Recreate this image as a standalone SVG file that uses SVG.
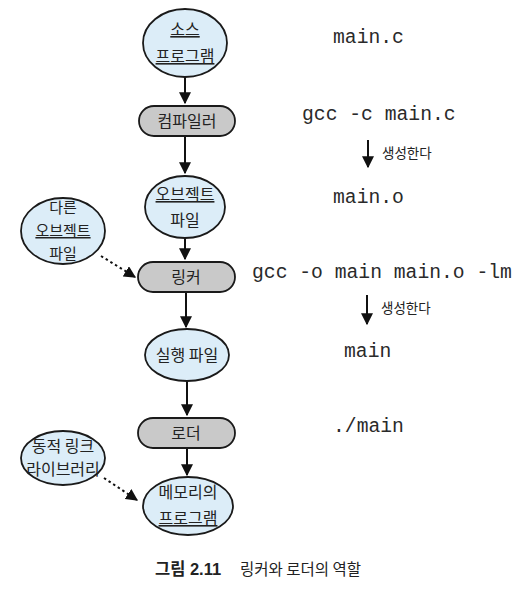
<svg xmlns="http://www.w3.org/2000/svg" width="525" height="591" viewBox="0 0 525 591">
<style>
.el{fill:#dcedf8;stroke:#1a1a1a;stroke-width:1.8}
.pl{fill:#c9c9c9;stroke:#1a1a1a;stroke-width:1.8}
.t{font-family:"Noto Sans CJK KR","Noto Sans",sans-serif;font-size:16px;fill:#222;text-anchor:middle}
.u{text-decoration:underline}
.m{font-family:"Liberation Mono","DejaVu Sans Mono",monospace;font-size:19.7px;fill:#2a2a2a}
.s{font-family:"Noto Sans CJK KR","Noto Sans",sans-serif;font-size:13.5px;fill:#222}
.a{stroke:#111;stroke-width:2;fill:none;marker-end:url(#ah)}
.d{stroke:#111;stroke-width:2;fill:none;stroke-dasharray:2.5 3;marker-end:url(#ah)}
</style>
<defs>
<marker id="ah" viewBox="0 0 10 10" refX="9" refY="5" markerWidth="6" markerHeight="6" orient="auto" markerUnits="strokeWidth">
<path d="M0,0 L10,5 L0,10 z" fill="#111"/>
</marker>
</defs>
<rect width="525" height="591" fill="#fff"/>
<g id="connectors">
<line class="a" x1="185" y1="77" x2="185" y2="103"/>
<line class="a" x1="185" y1="137" x2="185" y2="173"/>
<line class="a" x1="185" y1="238" x2="185" y2="259"/>
<line class="a" x1="186" y1="293" x2="186" y2="327"/>
<line class="a" x1="187" y1="381" x2="187" y2="415"/>
<line class="a" x1="187" y1="449" x2="187" y2="475"/>
<path class="d" d="M101,256 L135,277"/>
<path class="d" d="M104,478 L137,500"/>
<line class="a" x1="368" y1="140" x2="368" y2="167"/>
<line class="a" x1="367" y1="295" x2="367" y2="324"/>
</g>
<g id="n-source">
<ellipse class="el" cx="185" cy="43" rx="42" ry="34"/>
<text class="t u" x="185" y="35">소스</text>
<text class="t u" x="185" y="62">프로그램</text>
</g>
<g id="n-compiler">
<rect class="pl" x="139" y="106" width="96" height="30" rx="15"/>
<text class="t" x="187" y="127">컴파일러</text>
</g>
<g id="n-object">
<ellipse class="el" cx="185" cy="207" rx="40" ry="31"/>
<text class="t u" x="185" y="200">오브젝트</text>
<text class="t" x="185" y="226">파일</text>
</g>
<g id="n-other">
<ellipse class="el" cx="63" cy="231" rx="42" ry="33"/>
<text class="t" x="63" y="213" style="font-size:15px">다른</text>
<text class="t u" x="63" y="236" style="font-size:15px">오브젝트</text>
<text class="t" x="63" y="259" style="font-size:15px">파일</text>
</g>
<g id="n-linker">
<rect class="pl" x="138" y="262" width="97" height="30" rx="15"/>
<text class="t" x="186" y="283">링커</text>
</g>
<g id="n-exe">
<ellipse class="el" cx="187" cy="355" rx="42" ry="26"/>
<text class="t" x="187" y="361">실행 파일</text>
</g>
<g id="n-loader">
<rect class="pl" x="138" y="418" width="97" height="30" rx="15"/>
<text class="t" x="186" y="439">로더</text>
</g>
<g id="n-dll">
<ellipse class="el" cx="63" cy="458" rx="42" ry="27"/>
<text class="t" x="63" y="452">동적 링크</text>
<text class="t" x="63" y="475">라이브러리</text>
</g>
<g id="n-mem">
<ellipse class="el" cx="188" cy="506" rx="45" ry="29"/>
<text class="t" x="188" y="498">메모리의</text>
<text class="t u" x="188" y="524">프로그램</text>
</g>
<g id="labels">
<text class="m" x="333" y="43">main.c</text>
<text class="m" x="302" y="120">gcc -c main.c</text>
<text class="s" x="382" y="158">생성한다</text>
<text class="m" x="333" y="203">main.o</text>
<text class="m" x="252" y="278">gcc -o main main.o -lm</text>
<text class="s" x="381" y="313">생성한다</text>
<text class="m" x="344" y="357">main</text>
<text class="m" x="333" y="432">./main</text>
<text x="155" y="575" font-family="'Liberation Sans','Noto Sans CJK KR',sans-serif" font-size="16.5" font-weight="bold" fill="#222">그림 2.11</text>
<text x="240" y="575" font-family="'Noto Sans CJK KR','Noto Sans',sans-serif" font-size="15.5" fill="#222">링커와 로더의 역할</text>
</g>
</svg>
